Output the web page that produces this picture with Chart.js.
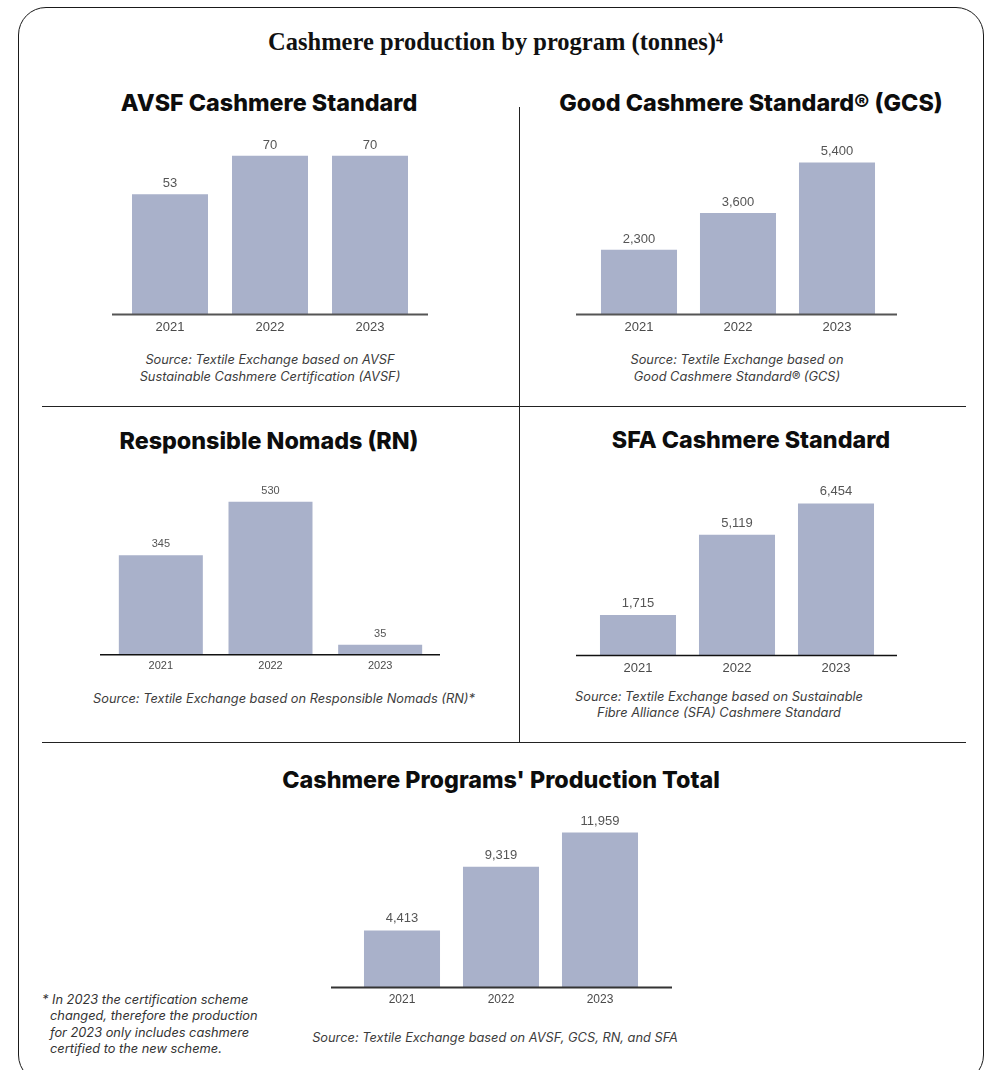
<!DOCTYPE html>
<html>
<head>
<meta charset="utf-8">
<script src="https://cdn.jsdelivr.net/npm/chart.js@4.4.1/dist/chart.umd.min.js"></script>
<style>
html,body{margin:0;padding:0;background:#fff;}
body{width:991px;height:1070px;position:relative;overflow:hidden;font-family:Inter,'Liberation Sans',sans-serif;}
.frame{position:absolute;left:18px;top:7px;width:966px;height:1076px;border:1.5px solid #1a1a1a;border-radius:28px;box-sizing:border-box;}
.main-title{position:absolute;left:0;width:991px;top:27px;line-height:30px;text-align:center;font-family:'Liberation Serif',serif;font-size:24.5px;font-weight:700;color:#111;white-space:nowrap;}
.main-title sup{font-size:14px;vertical-align:top;position:relative;top:-3px;}
.hline{position:absolute;height:0;border-top:1.5px solid #222;}
.vline{position:absolute;width:0;border-left:1.5px solid #222;}
.ptitle{position:absolute;line-height:28px;font-weight:800;font-size:23.3px;color:#0d0d0d;white-space:nowrap;transform:translateX(-50%);text-align:center;}
.src{position:absolute;font-style:italic;font-size:12.8px;line-height:17px;color:#3c3c3c;white-space:nowrap;transform:translateX(-50%);text-align:center;}
.foot{position:absolute;left:42px;top:992px;font-style:italic;font-size:12.8px;line-height:16.3px;color:#333;white-space:nowrap;}
.foot span{display:inline-block;width:8px;}
canvas{position:absolute;}
</style>
</head>
<body>
<div class="frame"></div>
<div class="main-title">Cashmere production by program (tonnes)<sup>4</sup></div>

<div class="vline" style="left:519px;top:107px;height:636px;"></div>
<div class="hline" style="left:42px;top:406px;width:924px;"></div>
<div class="hline" style="left:42px;top:742px;width:924px;"></div>

<div class="ptitle" style="left:269px;top:89px;">AVSF Cashmere Standard</div>
<div class="ptitle" style="left:751px;top:89px;">Good Cashmere Standard® (GCS)</div>
<div class="ptitle" style="left:269px;top:427px;">Responsible Nomads (RN)</div>
<div class="ptitle" style="left:751px;top:426px;">SFA Cashmere Standard</div>
<div class="ptitle" style="left:501px;top:766px;">Cashmere Programs' Production Total</div>

<div class="src" style="left:270px;top:351px;">Source: Textile Exchange based on AVSF<br>Sustainable Cashmere Certification (AVSF)</div>
<div class="src" style="left:737px;top:351px;">Source: Textile Exchange based on<br>Good Cashmere Standard® (GCS)</div>
<div class="src" style="left:284px;top:690px;">Source: Textile Exchange based on Responsible Nomads (RN)*</div>
<div class="src" style="left:719px;top:689px;line-height:16px;">Source: Textile Exchange based on Sustainable<br>Fibre Alliance (SFA) Cashmere Standard</div>
<div class="src" style="left:495px;top:1029px;">Source: Textile Exchange based on AVSF, GCS, RN, and SFA</div>

<div class="foot">*&nbsp;In 2023 the certification scheme<br><span></span>changed, therefore the production<br><span></span>for 2023 only includes cashmere<br><span></span>certified to the new scheme.</div>

<canvas id="c1"></canvas>
<canvas id="c2"></canvas>
<canvas id="c3"></canvas>
<canvas id="c4"></canvas>
<canvas id="c5"></canvas>

<script>
// ---- data ----
const years = ['2021', '2022', '2023'];
const avsfValues = [53, 70, 70];
const gcsValues = [2300, 3600, 5400];
const rnValues = [345, 530, 35];
const sfaValues = [1715, 5119, 6454];
const totalValues = [4413, 9319, 11959];

// ---- style / layout ----
const BAR_COLOR = '#A9B1CA';

const panels = [
  {id:'c1', values:avsfValues,  areaL:120,   areaR:420,   baseL:112, baseR:428, baseY:314, pxPerUnit:2.267,   bar:0.76,  tick:13, label:13, tickPad:5, gap:7, baseColor:'#555', baseW:2},
  {id:'c2', values:gcsValues,   areaL:589.5, areaR:886.5, baseL:576, baseR:897, baseY:314, pxPerUnit:0.02815, bar:0.768, tick:13, label:13, tickPad:5, gap:7, baseColor:'#555', baseW:2},
  {id:'c3', values:rnValues,    areaL:106,   areaR:435,   baseL:100, baseR:440, baseY:655, pxPerUnit:0.2887,  bar:0.766, tick:11, label:11, tickPad:5, gap:8, baseColor:'#111', baseW:1.5},
  {id:'c4', values:sfaValues,   areaL:588.5, areaR:885.5, baseL:576, baseR:897, baseY:655, pxPerUnit:0.02355, bar:0.768, tick:13, label:13, tickPad:5, gap:8, baseColor:'#111', baseW:1.5},
  {id:'c5', values:totalValues, areaL:352.5, areaR:649.5, baseL:331, baseR:672, baseY:988, pxPerUnit:0.01296, bar:0.768, tick:12, label:13, tickPad:5, gap:8, baseColor:'#333', baseW:2}
];

const baselinePlugin = {
  id: 'baseline',
  afterDatasetsDraw(chart, args, opts) {
    const {ctx, chartArea, scales} = chart;
    const y = scales.y.getPixelForValue(0);
    ctx.save();
    ctx.strokeStyle = opts.color;
    ctx.lineWidth = opts.width;
    ctx.beginPath();
    ctx.moveTo(chartArea.left - opts.extL, y);
    ctx.lineTo(chartArea.right + opts.extR, y);
    ctx.stroke();
    ctx.restore();
  }
};

const valueLabelPlugin = {
  id: 'valueLabels',
  afterDatasetsDraw(chart, args, opts) {
    const {ctx} = chart;
    const meta = chart.getDatasetMeta(0);
    const data = chart.data.datasets[0].data;
    ctx.save();
    ctx.font = opts.size + "px 'Liberation Sans', Arial, sans-serif";
    ctx.fillStyle = '#555';
    ctx.textAlign = 'center';
    ctx.textBaseline = 'alphabetic';
    meta.data.forEach((bar, i) => {
      ctx.fillText(data[i].toLocaleString('en-US'), bar.x, bar.y - opts.gap);
    });
    ctx.restore();
  }
};

panels.forEach(p => {
  const canvas = document.getElementById(p.id);
  const cLeft = p.baseL - 6;
  const cRight = p.baseR + 6;
  const cW = cRight - cLeft;
  const cH = 250;
  canvas.width = cW; canvas.height = cH;
  canvas.style.width = cW + 'px'; canvas.style.height = cH + 'px';
  canvas.style.left = cLeft + 'px';
  canvas.style.top = '0px';

  const chart = new Chart(canvas, {
    type: 'bar',
    data: {
      labels: years,
      datasets: [{
        data: p.values,
        backgroundColor: BAR_COLOR,
        borderWidth: 0,
        barPercentage: p.bar,
        categoryPercentage: 1
      }]
    },
    options: {
      responsive: false,
      animation: false,
      devicePixelRatio: 1,
      layout: {padding: {left: p.areaL - cLeft, right: cRight - p.areaR, top: 30, bottom: 0}},
      plugins: {
        legend: {display: false},
        tooltip: {enabled: false},
        baseline: {color: p.baseColor, width: p.baseW, extL: p.areaL - p.baseL, extR: p.baseR - p.areaR},
        valueLabels: {size: p.label, gap: p.gap}
      },
      scales: {
        x: {
          grid: {display: false, drawTicks: false},
          border: {display: false},
          ticks: {color: '#4a4a4a', font: {family: "'Liberation Sans', Arial, sans-serif", size: p.tick}, padding: p.tickPad, autoSkip: false, maxRotation: 0}
        },
        y: {display: false, min: 0, max: 100}
      }
    },
    plugins: [baselinePlugin, valueLabelPlugin]
  });

  const H = chart.chartArea.bottom - chart.chartArea.top;
  chart.options.scales.y.max = H / p.pxPerUnit;
  chart.update('none');
  canvas.style.top = (p.baseY - chart.chartArea.bottom) + 'px';
});
</script>
</body>
</html>
